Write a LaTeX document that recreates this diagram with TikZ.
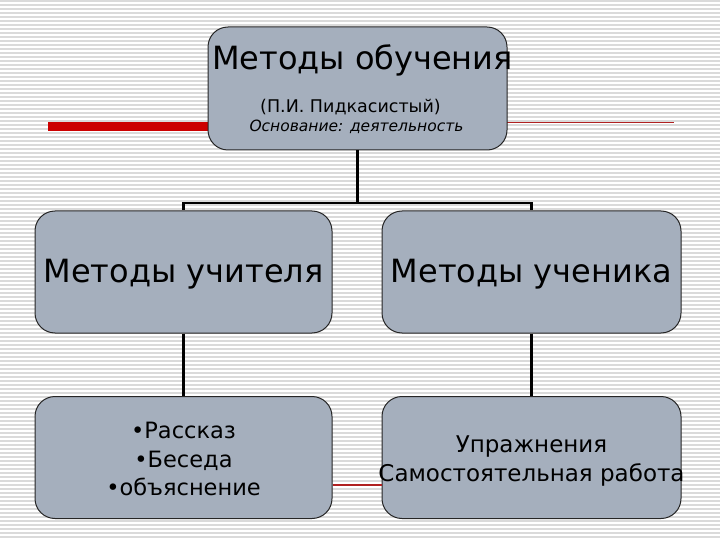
\documentclass[tikz,border=0pt]{standalone}
\usepackage{fontspec}
\setmainfont{DejaVu Sans}
\usepackage{tikz}
\usepackage{xcolor}
\definecolor{boxfill}{HTML}{A5AFBD}
\definecolor{stripe}{HTML}{DADADA}
\definecolor{slidered}{HTML}{CC0000}
\definecolor{thinred}{HTML}{B02020}
\tikzset{
  methodbox/.style={draw=black!85, line width=1pt, fill=boxfill, rounded corners=20pt,
    minimum width=297pt, minimum height=122pt, inner sep=0pt},
  link/.style={line width=2.5pt, black}
}

\begin{document}
\begin{tikzpicture}[x=1pt,y=-1pt]
\useasboundingbox (0,0) rectangle (720,540);
% background stripes
\fill[white] (0,0) rectangle (720,540);
\foreach \y in {1,5,...,540} \draw[stripe, line width=1.6pt] (0,\y) -- (720,\y);

% decorative red lines
\coordinate (redL) at (48,126.5);
\coordinate (redR) at (674,123);
\draw[slidered, line width=9pt] (redL) -- (210,126.5);
\draw[thinred, line width=1pt] (507,123) -- (redR);

% boxes
\node[methodbox, minimum width=299pt, minimum height=123pt] (top) at (357.5,88.5) {};
\node[methodbox] (teacher) at (183.5,272) {};
\node[methodbox, minimum width=299pt] (student) at (531.5,272) {};
\node[methodbox] (tlist) at (183.5,457.5) {};
\node[methodbox, minimum width=299pt] (slist) at (531.5,457.5) {};

% thin red line between the lower boxes
\draw[thinred, line width=1.2pt] (tlist.east |- 0,485) -- (slist.west |- 0,485);

% connectors
\coordinate (fork) at (357.5,203);
\draw[link] (top.south) -- (fork);
\draw[link] (fork) -| (teacher.north);
\draw[link] (fork) -| (student.north);
\draw[link] (teacher.south) -- (tlist.north);
\draw[link] (student.south) -- (slist.north);

% texts
\node[font=\fontsize{32}{36}\selectfont] (title) at (362.5,60) {Методы обучения};
\node[font=\fontsize{17.5}{20}\selectfont] (author) at (350.5,107) {(П.И. Пидкасистый)};
\node[font=\fontsize{15.5}{18}\selectfont\itshape] (basis) at (356.5,127) {Основание: деятельность};
\node[font=\fontsize{32}{36}\selectfont] (tname) at (183.5,274) {Методы учителя};
\node[font=\fontsize{32}{36}\selectfont] (sname) at (531.5,274) {Методы ученика};
\node[font=\fontsize{22.5}{28.3}\selectfont, align=center] (titems) at (183.5,459)
  {•Рассказ\\•Беседа\\•объяснение};
\node[font=\fontsize{23}{29}\selectfont, align=center] (sitems) at (531.5,461)
  {Упражнения\\Самостоятельная работа};
\end{tikzpicture}
\end{document}
